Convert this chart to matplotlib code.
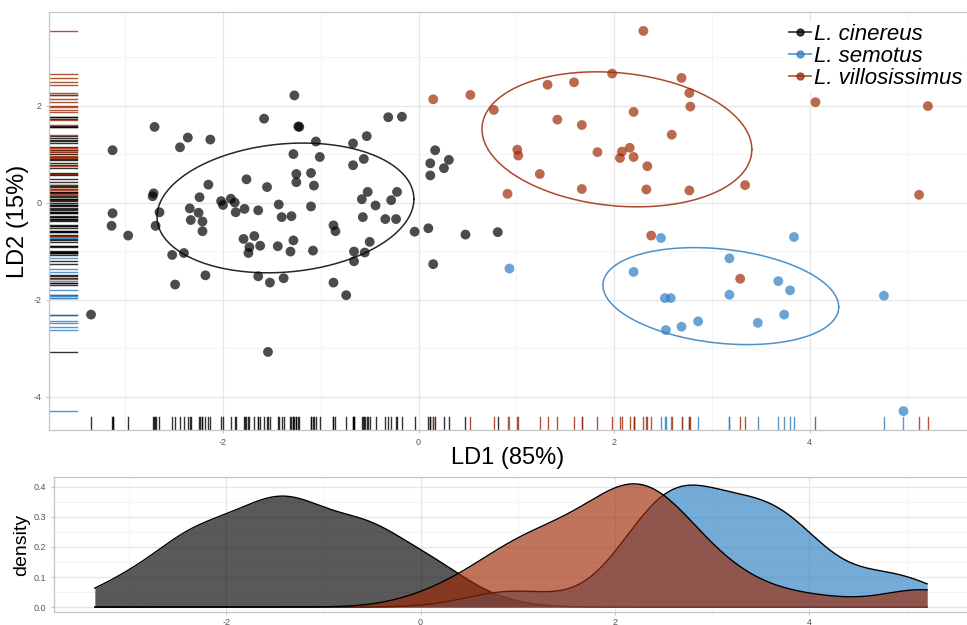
import numpy as np
import matplotlib
matplotlib.use("Agg")
import matplotlib.pyplot as plt
from matplotlib.lines import Line2D
import matplotlib.transforms as mtransforms

plt.rcParams['font.family'] = ['Liberation Sans', 'DejaVu Sans']
plt.rcParams['axes.unicode_minus'] = False

# ---------------- data ----------------
species = ["L. cinereus", "L. semotus", "L. villosissimus"]
colors = ["#000000", "#2C7EC2", "#9F2905"]

cinereus_ld1 = [-1.27, -1.58, -1.22, -0.31, -0.17, -2.70, -3.13, -2.36, -2.44, -2.13,
                -1.05, -0.53, -0.67, -1.28, -1.01, -0.56, -0.67, -1.76, -1.25, -1.10,
                -1.25, -1.07, -2.15, -1.55, -2.71, -2.72, -2.24, -2.02, -1.92, -2.00,
                -1.88, -0.52, -0.22, -0.58, -0.28, -0.44, -1.43, -1.10, -3.13, -3.14,
                -2.97, -2.69, -2.65, -2.34, -2.25, -2.33, -2.21, -2.21, -1.78, -1.87,
                -1.64, -1.40, -1.30, -0.57, -0.34, -0.23, -0.87, -0.85, -0.04, 0.10,
                0.48, -1.79, -1.68, -1.28, -0.50, -1.73, -1.74, -1.62, -1.44, -1.31,
                -1.08, -0.66, -0.55, -0.66, -2.52, -2.40, -2.18, -2.49, -1.64, -1.52,
                -1.38, -0.87, -0.74, 0.15, -3.35, -1.54, 0.17, 0.12, 0.12, 0.26,
                0.31, 0.81, -1.23]
cinereus_ld2 = [2.21, 1.73, 1.56, 1.76, 1.77, 1.56, 1.08, 1.34, 1.14, 1.30,
                1.26, 1.37, 1.22, 1.00, 0.94, 0.90, 0.77, 0.48, 0.59, 0.61,
                0.42, 0.35, 0.37, 0.32, 0.19, 0.13, 0.11, 0.03, 0.08, -0.05,
                0.00, 0.22, 0.22, 0.07, 0.05, -0.06, -0.04, -0.08, -0.22, -0.48,
                -0.68, -0.48, -0.20, -0.12, -0.21, -0.36, -0.39, -0.59, -0.13, -0.20,
                -0.16, -0.30, -0.28, -0.30, -0.34, -0.34, -0.47, -0.59, -0.60, -0.53,
                -0.66, -0.75, -0.69, -0.78, -0.81, -0.92, -1.04, -0.89, -0.90, -1.01,
                -0.99, -1.01, -1.03, -1.21, -1.08, -1.04, -1.50, -1.69, -1.52, -1.65,
                -1.56, -1.65, -1.91, -1.27, -2.31, -3.08, 1.08, 0.81, 0.56, 0.71,
                0.88, -0.61, 1.57]

semotus_ld1 = [2.48, 3.84, 0.93, 3.18, 2.20, 3.68, 3.80, 3.18, 2.52, 2.58,
               4.76, 3.74, 2.86, 3.47, 2.69, 2.53, 4.96]
semotus_ld2 = [-0.73, -0.71, -1.36, -1.15, -1.43, -1.62, -1.81, -1.90, -1.97, -1.97,
               -1.92, -2.31, -2.45, -2.48, -2.56, -2.63, -4.30]

villosissimus_ld1 = [0.15, 0.53, 2.30, 1.98, 2.69, 1.32, 1.59, 2.77, 0.77, 2.78,
                     2.20, 1.42, 1.67, 2.59, 1.01, 1.02, 1.83, 2.08, 2.16, 2.06,
                     2.20, 2.34, 1.24, 1.67, 2.33, 2.77, 0.91, 3.34, 4.06, 5.21,
                     5.12, 2.38, 3.29]
villosissimus_ld2 = [2.13, 2.22, 3.54, 2.66, 2.57, 2.43, 2.48, 2.26, 1.91, 1.98,
                     1.87, 1.71, 1.60, 1.40, 1.09, 0.97, 1.04, 1.05, 1.13, 0.92,
                     0.94, 0.75, 0.59, 0.28, 0.27, 0.25, 0.18, 0.36, 2.07, 1.99,
                     0.16, -0.68, -1.57]

x_ticks = [-2, 0, 2, 4]
y_ticks = [-4, -2, 0, 2]
dens_ticks = [0.0, 0.1, 0.2, 0.3, 0.4]
ellipse_level = 0.68

groups = [(np.array(cinereus_ld1), np.array(cinereus_ld2)),
          (np.array(semotus_ld1), np.array(semotus_ld2)),
          (np.array(villosissimus_ld1), np.array(villosissimus_ld2))]


def cov_trob(X, nu=5, iters=100):
    n, p = X.shape
    m = X.mean(0)
    S = np.cov(X.T)
    for _ in range(iters):
        d = X - m
        md = np.einsum('ij,jk,ik->i', d, np.linalg.inv(S), d)
        w = (nu + p) / (nu + md)
        m = (w[:, None] * X).sum(0) / w.sum()
        d = X - m
        S = (w[:, None] * d).T @ d / n
    return m, S


def ellipse_pts(x, y, level):
    X = np.column_stack([x, y])
    n = len(x)
    m, S = cov_trob(X)
    dfd = n - 1
    fq = dfd / 2 * ((1 - level) ** (-2 / dfd) - 1)
    r = np.sqrt(2 * fq)
    t = np.linspace(0, 2 * np.pi, 200)
    circ = np.column_stack([np.cos(t), np.sin(t)])
    ch = np.linalg.cholesky(S).T
    pts = m + r * circ @ ch
    return pts[:, 0], pts[:, 1]


def kde(data, grid):
    data = np.asarray(data)
    n = len(data)
    sd = data.std(ddof=1)
    iqr = np.subtract(*np.percentile(data, [75, 25]))
    bw = 0.9 * min(sd, iqr / 1.34) * n ** (-0.2)
    z = (grid[:, None] - data[None, :]) / bw
    return np.exp(-0.5 * z ** 2).sum(1) / (n * bw * np.sqrt(2 * np.pi))


fig = plt.figure(figsize=(9.67, 6.25), dpi=100)

grid_major = '#e6e6e6'
grid_minor = '#f2f2f2'
frame_col = '#c4c4c4'
tick_col = '#555555'


def style_axes(a):
    a.grid(True, which='major', color=grid_major, lw=0.9)
    a.grid(True, which='minor', color=grid_minor, lw=0.6)
    a.set_axisbelow(True)
    for s in a.spines.values():
        s.set_color(frame_col)
        s.set_linewidth(0.9)
    a.spines['right'].set_visible(False)
    a.tick_params(which='major', length=2.5, width=0.8, color='#c4c4c4',
                  labelsize=6.5, labelcolor=tick_col, pad=3)
    a.tick_params(which='minor', length=0)


# ---------------- top scatter ----------------
ax = fig.add_axes([49 / 967, 1 - 430 / 625, 1 - 49 / 967, (430 - 12) / 625])
ax.set_xlim(-3.78, 5.61)
ax.set_ylim(-4.69, 3.93)
ax.set_xticks(x_ticks)
ax.set_yticks(y_ticks)
ax.set_xticks([-3, -1, 1, 3, 5], minor=True)
ax.set_yticks([-3, -1, 1, 3], minor=True)
style_axes(ax)

trans_x = mtransforms.blended_transform_factory(ax.transData, ax.transAxes)
trans_y = mtransforms.blended_transform_factory(ax.transAxes, ax.transData)

for (gx, gy), col in zip(groups, colors):
    ax.scatter(gx, gy, s=50, color=col, alpha=0.7, edgecolors='none', zorder=3)
    ex, ey = ellipse_pts(gx, gy, ellipse_level)
    ax.plot(ex, ey, color=col, lw=1.1, alpha=0.85, zorder=4)
    for v in gx:
        ax.plot([v, v], [0, 0.03], transform=trans_x, color=col, lw=1.0, alpha=0.8, zorder=2)
    for v in gy:
        ax.plot([0, 0.03], [v, v], transform=trans_y, color=col, lw=1.0, alpha=0.8, zorder=2)

ax.set_xlabel('LD1 (85%)', fontsize=17, labelpad=0)
ax.set_ylabel('LD2 (15%)', fontsize=17, labelpad=3)

handles = [Line2D([0], [0], color=c, marker='o', markersize=5, lw=1.3, alpha=0.75) for c in colors]
leg = ax.legend(handles, species, loc='upper right', bbox_to_anchor=(1.0, 0.982),
                frameon=True, fancybox=False, framealpha=1, edgecolor='white',
                prop={'style': 'italic', 'size': 16}, handlelength=1.0,
                handletextpad=0.15, labelspacing=0.04, borderpad=0.1, borderaxespad=0.1)
leg.set_zorder(6)

# ---------------- bottom density ----------------
ax2 = fig.add_axes([54 / 967, 1 - 612 / 625, 1 - 54 / 967, (612 - 477) / 625])
ax2.set_xlim(-3.77, 5.62)
ax2.set_ylim(-0.0165, 0.433)
ax2.set_xticks(x_ticks)
ax2.set_yticks(dens_ticks)
ax2.set_yticklabels([f"{v:.1f}" for v in dens_ticks])
ax2.set_xticks([-3, -1, 1, 3, 5], minor=True)
ax2.set_yticks([0.05, 0.15, 0.25, 0.35], minor=True)
style_axes(ax2)
ax2.tick_params(axis='x', which='major', pad=1.5)
ax2.set_ylabel('density', fontsize=14, labelpad=3)

allx = np.concatenate([g[0] for g in groups])
xg = np.linspace(allx.min(), allx.max(), 512)
for (gx, gy), col in zip(groups, colors):
    d = kde(gx, xg)
    ax2.fill_between(xg, 0, d, color=col, alpha=0.65, lw=0, zorder=3)
    ax2.plot(xg, d, color='black', lw=1.0, zorder=3)

fig.savefig('out.png', dpi=100)
